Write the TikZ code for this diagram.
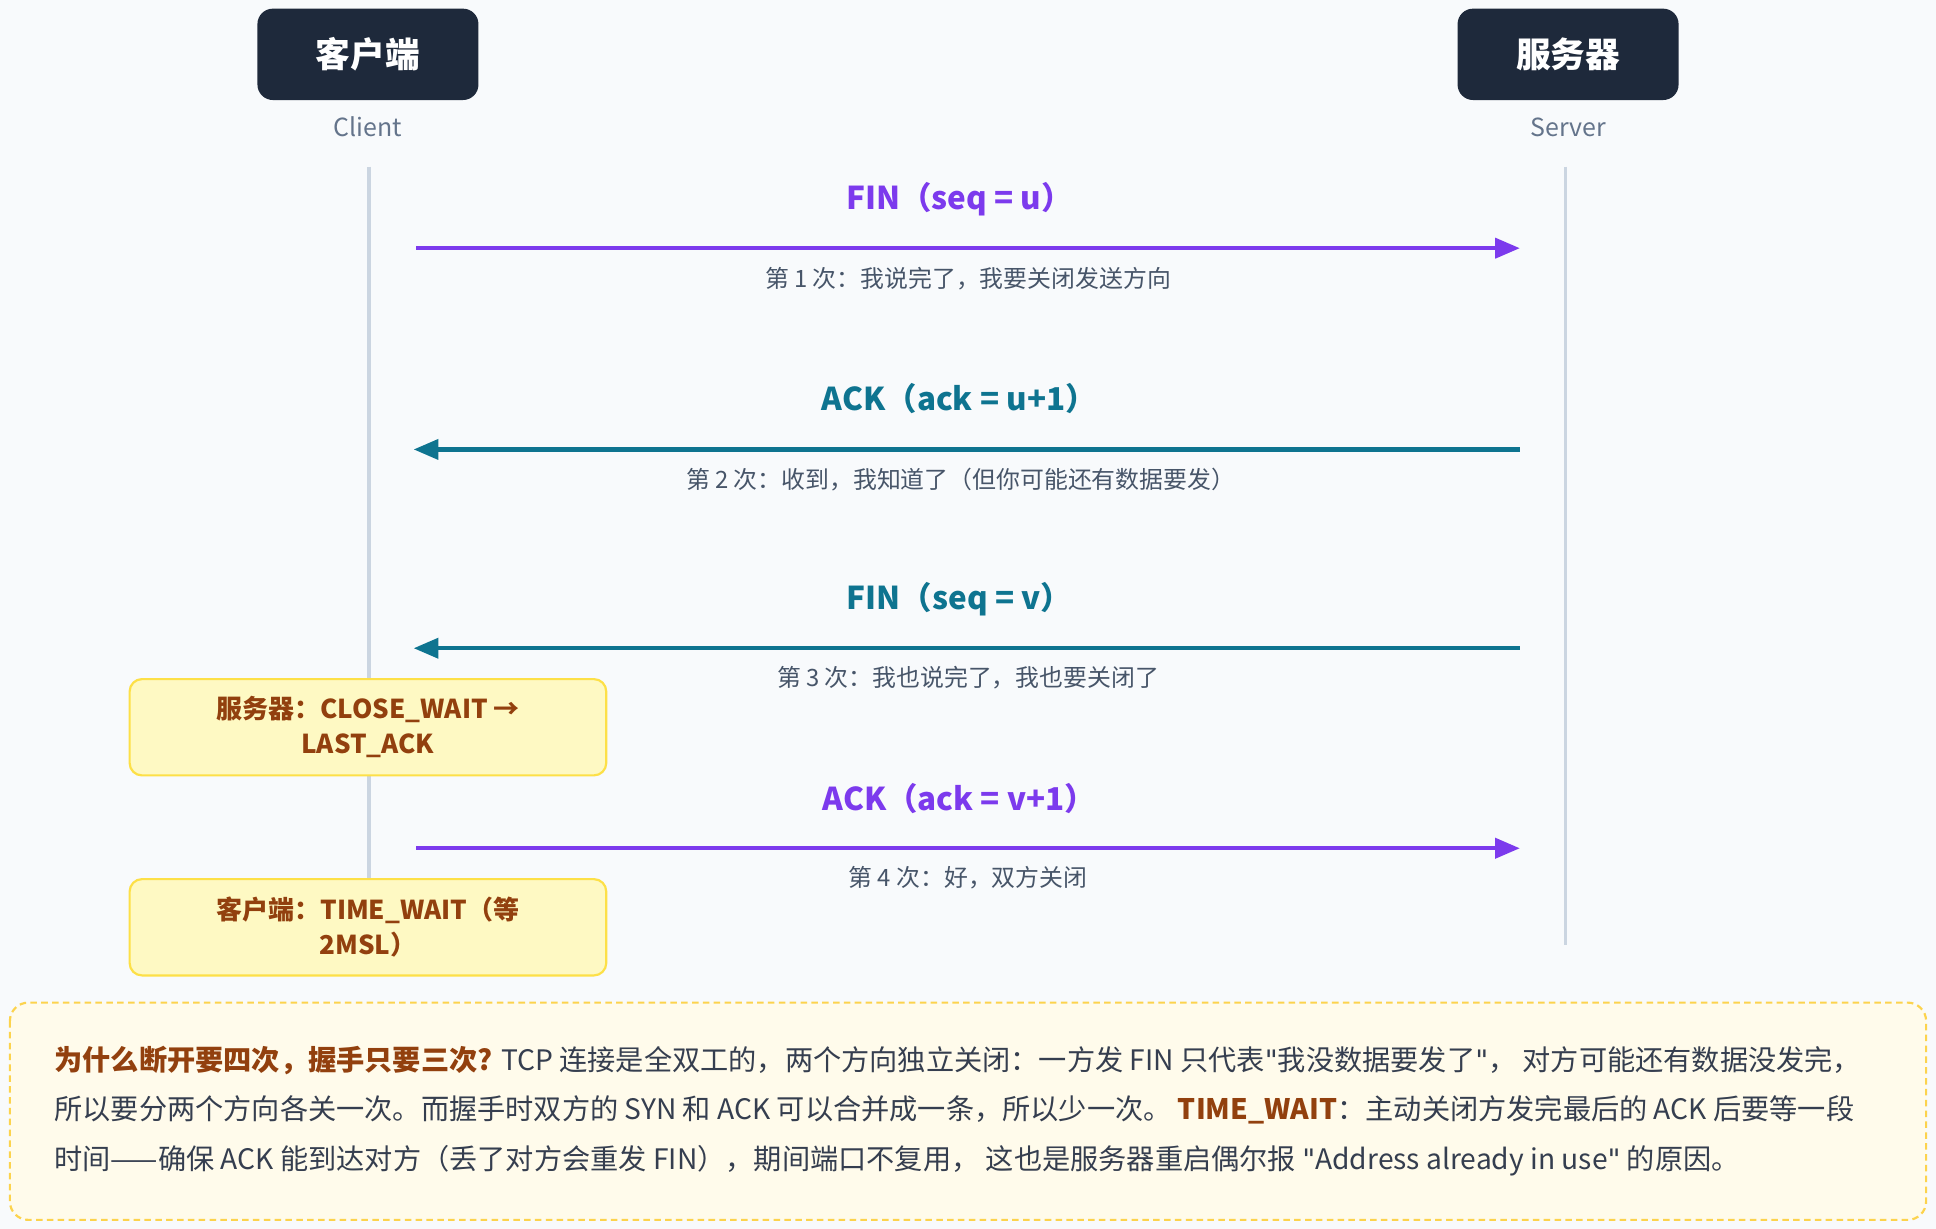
\documentclass[tikz,border=0pt]{standalone}
\usepackage{fontspec}
\setmainfont{Noto Sans CJK SC}
\newfontfamily\latq{DejaVu Sans}
\usetikzlibrary{arrows.meta}
\definecolor{bg}{HTML}{F8FAFC}
\definecolor{dark}{HTML}{1E293B}
\definecolor{sub}{HTML}{64748B}
\definecolor{life}{HTML}{CBD5E1}
\definecolor{purp}{HTML}{7C3AED}
\definecolor{teal}{HTML}{0E7490}
\definecolor{gr}{HTML}{475569}
\definecolor{notef}{HTML}{FEF9C3}
\definecolor{notel}{HTML}{FDE047}
\definecolor{brown}{HTML}{92400E}
\definecolor{boxf}{HTML}{FFFBEB}
\definecolor{boxl}{HTML}{FCD34D}
\newcommand{\dq}{{\latq\char34}}
\begin{document}
\begin{tikzpicture}[x=0.02cm,y=-0.02cm,
  actor/.style={draw=none,fill=dark,rounded corners=0.25cm,minimum width=179*0.02cm,minimum height=74*0.02cm,text=white,font=\fontsize{16}{18}\selectfont\bfseries},
  actorcap/.style={text=sub,font=\fontsize{11.5}{13}\selectfont},
  lifeline/.style={draw=life,line width=1.7pt},
  msg/.style={line width=2pt,-{Triangle[length=0.4cm,width=0.32cm]}},
  lab/.style={font=\fontsize{14.5}{16}\selectfont\bfseries},
  sublab/.style={text=gr,font=\fontsize{11}{13}\selectfont},
  note/.style={draw=notel,fill=notef,line width=1pt,rounded corners=0.2cm,minimum width=386*0.02cm,minimum height=78*0.02cm,text=brown,align=center,font=\fontsize{12}{16}\selectfont\bfseries},
  btxt/.style={anchor=west,font=\fontsize{13}{15}\selectfont,text=dark!90}]
\fill[bg] (0,0) rectangle (1568,995);
\useasboundingbox (0,0) rectangle (1568,995);
\node[actor] (c) at (298,44) {客户端};
\node[actor] (s) at (1270,44) {服务器};
\node[actorcap] (cl) at (298,103) {Client};
\node[actorcap] (sl) at (1270,103) {Server};
\coordinate (c0) at (299,135); \coordinate (c1) at (299,785);
\coordinate (s0) at (1268,135); \coordinate (s1) at (1268,765);
\draw[lifeline] (c0) -- (c1);
\draw[lifeline] (s0) -- (s1);
\coordinate (a1l) at (337,201); \coordinate (a1r) at (1231,201);
\draw[msg,purp] (a1l) -- (a1r);
\node[lab,text=purp] (l1) at (777,161) {FIN（seq = u）};
\node[sublab] (d1) at (784,226) {第 1 次：我说完了，我要关闭发送方向};
\coordinate (a2l) at (335,364); \coordinate (a2r) at (1231,364);
\draw[msg,teal] (a2r) -- (a2l);
\node[lab,text=teal] (l2) at (777,323) {ACK（ack = u+1）};
\node[sublab] (d2) at (778,388) {第 2 次：收到，我知道了（但你可能还有数据要发）};
\coordinate (a3l) at (335,525); \coordinate (a3r) at (1231,525);
\draw[msg,teal] (a3r) -- (a3l);
\node[lab,text=teal] (l3) at (777,485) {FIN（seq = v）};
\node[sublab] (d3) at (784,549) {第 3 次：我也说完了，我也要关闭了};
\coordinate (a4l) at (337,687); \coordinate (a4r) at (1231,687);
\draw[msg,purp] (a4l) -- (a4r);
\node[lab,text=purp] (l4) at (777,647) {ACK（ack = v+1）};
\node[sublab] (d4) at (784,711) {第 4 次：好，双方关闭};
\node[note] (n1) at (298,589) {服务器：CLOSE\_WAIT →\\LAST\_ACK};
\node[note] (n2) at (298,751) {客户端：TIME\_WAIT（等\\2MSL）};
\draw[draw=boxl,fill=boxf,line width=1pt,dash pattern=on 3pt off 2pt,rounded corners=0.3cm] (8,812) rectangle (1560,988);
\node[btxt] (t1) at (38,859) {{\color{brown}\bfseries 为什么断开要四次，握手只要三次?} TCP 连接是全双工的，两个方向独立关闭：一方发 FIN 只代表\dq 我没数据要发了\dq， 对方可能还有数据没发完，};
\node[btxt] (t2) at (38,899) {所以要分两个方向各关一次。而握手时双方的 SYN 和 ACK 可以合并成一条，所以少一次。 {\color{brown}\bfseries TIME\_WAIT}：主动关闭方发完最后的 ACK 后要等一段};
\node[btxt] (t3) at (38,940) {时间——确保 ACK 能到达对方（丢了对方会重发 FIN），期间端口不复用， 这也是服务器重启偶尔报 \dq Address already in use\dq{} 的原因。};
\end{tikzpicture}
\end{document}
